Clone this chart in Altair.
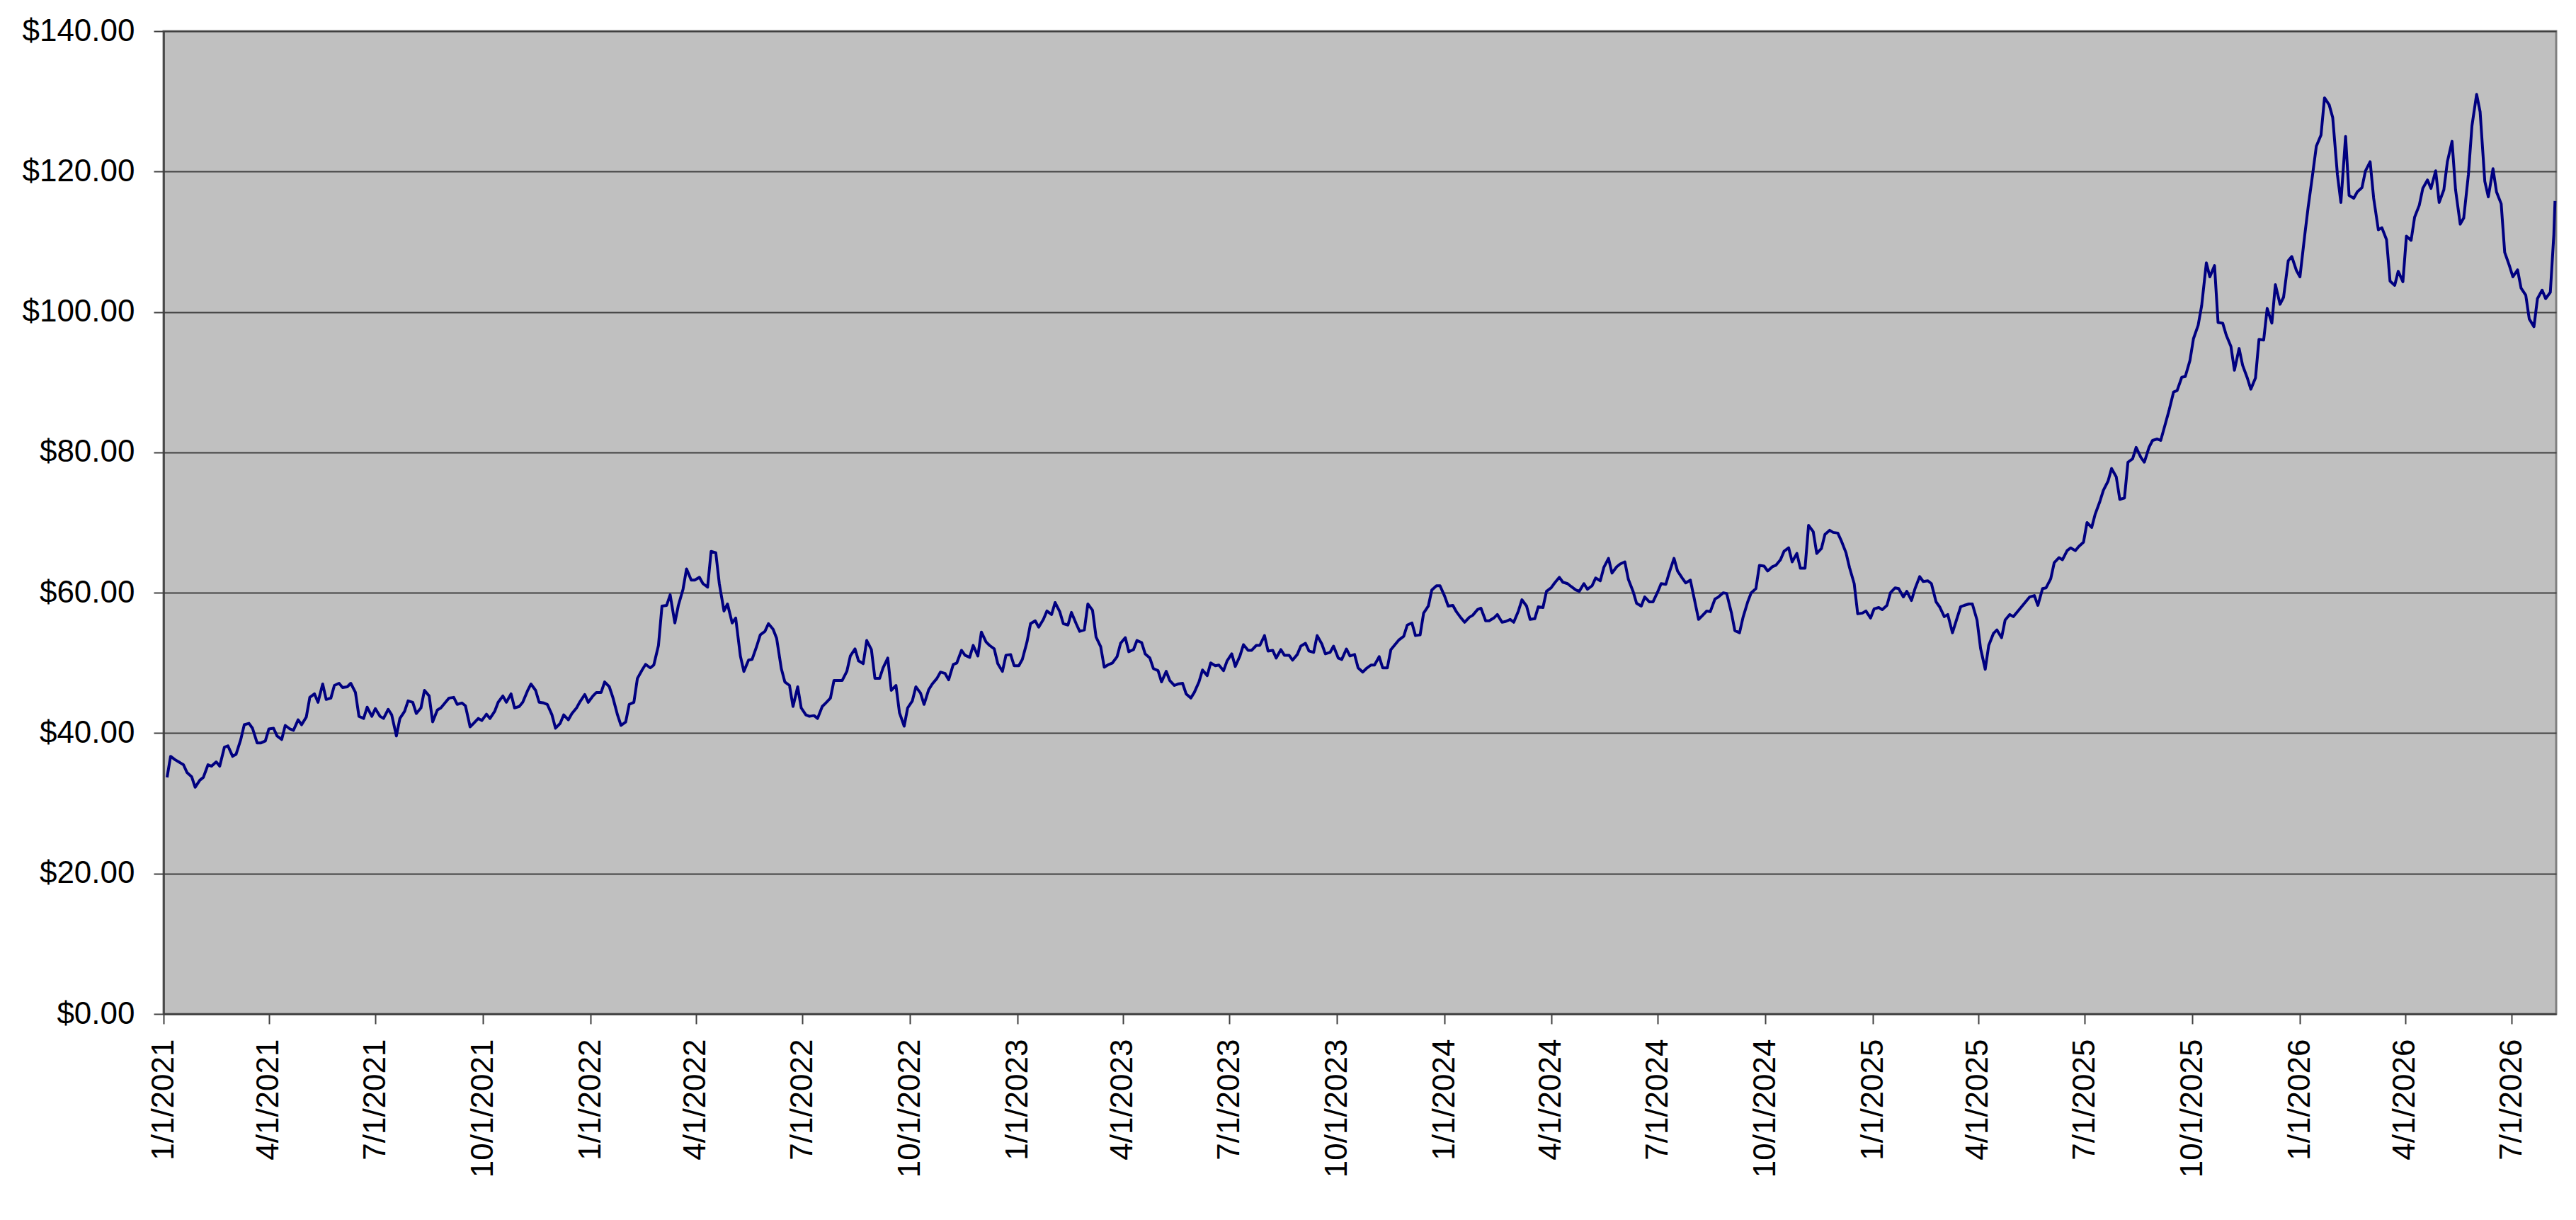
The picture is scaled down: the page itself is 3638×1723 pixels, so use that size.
import altair as alt
import pandas as pd

# Prices: Monday of each week from 2021-01-04 ...
mon_prices = [
    33.7, 36.2, 35.5, 33.8, 33.3, 35.5, 35.9, 38.0, 36.7, 39.1,
    41.4, 38.6, 38.9, 40.7, 39.1, 40.6, 41.9, 42.3, 45.6, 47.0,
    45.0, 47.1, 46.6, 45.8, 42.1, 42.4, 42.4, 43.4, 39.6, 43.1,
    44.4, 43.6, 45.3, 43.3, 44.4, 45.1, 44.3, 40.9, 42.1, 42.7,
    43.1, 45.3, 45.6, 43.8, 46.0, 46.1, 44.3, 42.6, 41.4, 41.9,
    43.6, 45.5, 45.3, 45.8, 46.6, 42.6, 41.6, 44.4, 49.0, 49.3,
    52.5, 58.2, 55.7, 60.5, 61.8, 62.2, 60.8, 65.7, 57.4, 55.7,
    51.0, 50.4, 52.4, 54.5, 54.8, 49.2, 46.8, 46.6, 42.6, 42.5,
    43.8, 45.0, 47.5, 48.8, 52.0, 49.9, 51.9, 47.8, 50.7, 46.8,
    41.0, 44.6, 45.7, 46.2, 47.8, 48.5, 49.8, 51.8, 50.8, 51.0,
    53.0, 52.0, 48.8, 51.2, 49.6, 53.0, 56.0, 56.2, 56.9, 57.3,
    55.4, 55.6, 54.7, 57.5, 52.3, 49.8, 50.9, 53.6, 51.9, 52.9,
    50.7, 48.9, 48.8, 46.8, 47.1, 45.0, 47.3, 48.2, 49.6, 48.9,
    51.3, 51.0, 51.8, 52.5, 53.9, 51.8, 51.9, 51.1, 51.2, 52.8,
    51.5, 52.7, 51.5, 50.7, 52.0, 51.2, 48.7, 49.7, 50.9, 49.3,
    52.7, 53.8, 55.7, 54.0, 58.1, 61.0, 59.5, 58.2, 56.4, 56.5,
    57.6, 56.0, 56.4, 55.8, 56.2, 57.4, 58.1, 56.3, 57.9, 60.7,
    62.2, 61.3, 60.4, 61.3, 61.0, 61.7, 64.9, 63.7, 64.4, 60.2,
    58.1, 58.7, 60.1, 61.2, 64.9, 62.1, 61.8, 56.2, 57.4, 59.1,
    60.0, 57.2, 54.3, 58.7, 60.6, 63.8, 63.7, 64.7, 66.4, 65.6,
    63.5, 68.7, 66.3, 68.9, 68.5, 65.7, 61.3, 57.1, 56.4, 57.9,
    58.2, 60.7, 59.4, 58.9, 62.3, 61.7, 58.7, 56.6, 54.3, 58.0,
    58.4, 56.1, 49.1, 54.2, 53.6, 56.9, 57.4, 58.8, 59.6, 60.6,
    62.0, 65.0, 66.0, 66.0, 67.2, 69.3, 73.0, 75.9, 76.5, 73.5,
    79.1, 79.3, 80.7, 81.9, 84.1, 88.6, 90.7, 93.1, 98.1, 107.0,
    106.6, 98.4, 95.1, 94.8, 90.6, 90.6, 96.0, 98.4, 101.1, 107.3,
    105.9, 110.8, 119.8, 125.2, 129.5, 119.6, 125.0, 116.2, 117.7, 121.4,
    111.7, 110.3, 103.8, 104.3, 110.2, 115.2, 118.8, 120.1, 117.4, 124.3,
    112.5, 119.6, 131.0, 118.6, 120.4, 115.4, 106.6, 106.0, 102.4, 97.9,
    103.1, 102.8,
]

# ... and Thursday of each week from 2021-01-07
thu_prices = [
    36.7, 35.9, 34.4, 32.3, 33.7, 35.3, 35.3, 38.2, 37.0, 41.2,
    40.7, 38.6, 40.6, 39.6, 41.1, 40.4, 41.2, 45.1, 44.4, 44.8,
    46.8, 46.5, 47.1, 42.4, 43.7, 43.5, 42.1, 42.6, 42.1, 44.6,
    42.8, 46.1, 41.6, 43.6, 45.0, 44.1, 43.9, 41.4, 41.8, 42.1,
    44.4, 44.4, 43.6, 44.4, 47.0, 44.4, 44.1, 40.7, 42.6, 42.8,
    44.5, 44.4, 45.8, 47.3, 45.1, 41.1, 44.1, 47.8, 49.8, 49.7,
    58.1, 59.7, 58.2, 63.4, 61.8, 61.3, 65.9, 61.3, 58.4, 56.4,
    48.8, 50.5, 54.0, 55.6, 53.5, 47.3, 43.8, 43.6, 42.4, 42.1,
    44.3, 47.5, 47.5, 51.0, 50.3, 53.2, 47.8, 49.3, 46.1, 42.9,
    43.6, 46.6, 44.1, 47.0, 48.7, 47.6, 50.0, 51.1, 52.5, 54.4,
    52.5, 49.9, 51.1, 49.6, 50.5, 55.6, 55.1, 57.4, 58.6, 55.6,
    57.2, 54.5, 58.4, 53.7, 49.4, 50.0, 52.8, 51.6, 53.2, 51.3,
    49.2, 47.3, 47.5, 47.0, 45.6, 45.8, 49.0, 50.0, 49.7, 50.3,
    49.5, 52.6, 51.8, 52.5, 51.7, 50.7, 51.1, 50.4, 52.4, 51.7,
    53.9, 51.3, 52.4, 50.5, 51.0, 49.3, 49.2, 49.7, 49.3, 51.9,
    53.3, 55.4, 53.9, 57.1, 60.4, 61.0, 58.1, 57.3, 55.8, 56.8,
    57.8, 56.0, 56.9, 55.9, 55.8, 59.0, 56.2, 58.0, 60.2, 61.4,
    61.5, 60.9, 60.2, 60.5, 62.1, 63.6, 62.8, 64.1, 61.9, 58.5,
    59.4, 58.7, 61.3, 62.9, 63.1, 61.4, 59.4, 56.7, 57.3, 59.4,
    59.9, 54.6, 56.5, 60.0, 63.9, 63.1, 63.9, 65.9, 64.4, 63.5,
    69.6, 65.6, 68.3, 68.6, 67.4, 63.6, 57.0, 57.4, 57.7, 57.6,
    60.0, 60.6, 60.2, 60.6, 61.6, 61.3, 58.0, 56.9, 55.9, 58.2,
    58.4, 52.1, 52.5, 54.7, 56.1, 56.6, 58.0, 59.4, 58.2, 60.7,
    64.3, 64.7, 66.4, 66.6, 70.0, 71.2, 74.6, 77.7, 73.3, 78.6,
    80.7, 78.6, 81.7, 81.7, 85.9, 88.8, 90.8, 96.2, 100.9, 105.0,
    98.5, 96.7, 91.7, 92.4, 89.0, 96.1, 100.5, 103.9, 102.1, 107.9,
    105.0, 114.9, 123.6, 130.5, 127.7, 115.6, 116.6, 117.1, 120.1, 116.2,
    112.0, 104.4, 105.8, 110.8, 113.5, 117.6, 117.6, 115.6, 121.4, 117.4,
    113.4, 126.5, 128.5, 116.4, 117.1, 108.5, 105.0, 103.4, 99.0, 101.9,
    101.9, 111.0,
]

# Last point of the series
final_date = "2026-08-07"
final_price = 115.8

first_monday = pd.Timestamp("2021-01-04")
rows = []
for k, (pm, pt) in enumerate(zip(mon_prices, thu_prices)):
    mon = first_monday + pd.Timedelta(days=7 * k)
    thu = mon + pd.Timedelta(days=3)
    rows.append((mon.strftime("%Y-%m-%dT00:00:00"), pm))
    rows.append((thu.strftime("%Y-%m-%dT00:00:00"), pt))
rows.append((final_date + "T00:00:00", final_price))
df = pd.DataFrame(rows, columns=["date", "price"])

# Quarterly tick dates (year, month), day 1
tick_dates = [(y, m) for y in range(2021, 2027) for m in (1, 4, 7, 10)]
tick_dates = [t for t in tick_dates if t <= (2026, 7)]
tick_values = [alt.DateTime(year=y, month=m, date=1) for (y, m) in tick_dates]

y_ticks = [0, 20, 40, 60, 80, 100, 120, 140]

font = "Liberation Sans"

chart = (
    alt.Chart(df)
    .mark_line(color="#000080", strokeWidth=4, strokeJoin="round")
    .encode(
        x=alt.X(
            "date:T",
            scale=alt.Scale(
                domain=[
                    alt.DateTime(year=2021, month=1, date=1),
                    alt.DateTime(year=2026, month=8, date=8),
                ],
                nice=False,
            ),
            axis=alt.Axis(
                values=tick_values,
                format="%-m/%-d/%Y",
                labelAngle=270,
                labelAlign="right",
                labelBaseline="middle",
                labelFont=font,
                labelFontSize=44,
                labelColor="#000000",
                labelPadding=21,
                labelLimit=0,
                labelOverlap=False,
                labelFlush=False,
                tickSize=14,
                tickColor="#404040",
                tickWidth=2,
                domainColor="#404040",
                domainWidth=2.5,
                grid=False,
                title=None,
            ),
        ),
        y=alt.Y(
            "price:Q",
            scale=alt.Scale(domain=[0, 140], nice=False, zero=True),
            axis=alt.Axis(
                values=y_ticks,
                format="$,.2f",
                labelFont=font,
                labelFontSize=44,
                labelColor="#000000",
                labelPadding=27,
                labelLimit=0,
                tickSize=14,
                tickColor="#404040",
                tickWidth=2,
                domainColor="#404040",
                domainWidth=2.5,
                grid=True,
                gridColor="#404040",
                gridWidth=2,
                labelOverlap=False,
                title=None,
            ),
        ),
    )
    .properties(
        width=3379,
        height=1388,
        padding={"left": 223, "top": 36, "right": 20, "bottom": 280},
        autosize=alt.AutoSizeParams(type="none"),
        background="#FFFFFF",
    )
    .configure_view(fill="#C0C0C0", stroke="#808080", strokeWidth=3)
)

chart.save("out.html", embed_options={"renderer": "svg", "actions": False})
